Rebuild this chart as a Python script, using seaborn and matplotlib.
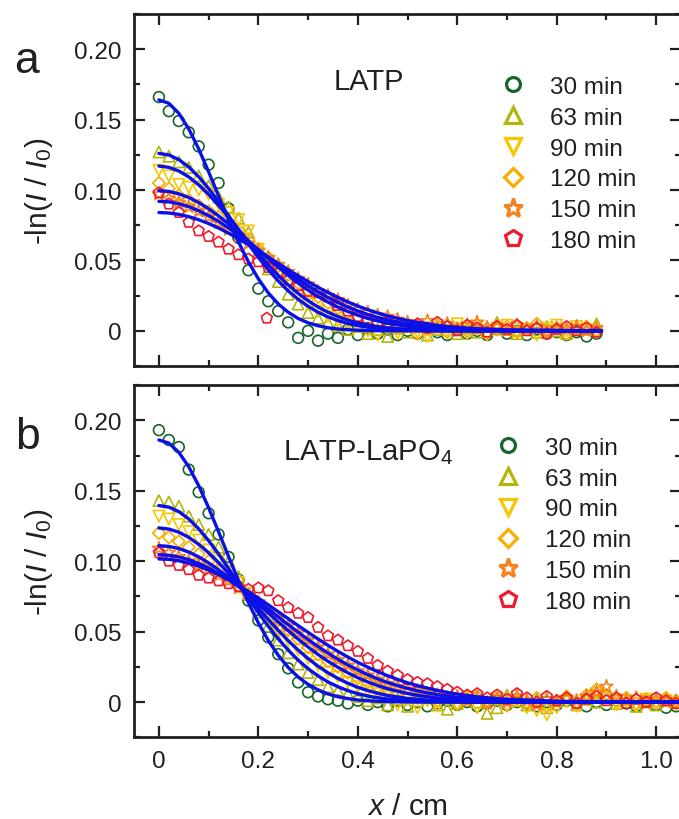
import numpy as np
import pandas as pd
import matplotlib
matplotlib.use("Agg")
import matplotlib.pyplot as plt
import seaborn as sns
from matplotlib.ticker import MultipleLocator, FuncFormatter
from matplotlib.lines import Line2D

# ---------------- data ----------------
labels = ["30 min", "63 min", "90 min", "120 min", "150 min", "180 min"]
colors = ["#17652b", "#b3b50a", "#f7c600", "#f8ad00", "#f7801f", "#ef1a2c"]
markers = ["o", "^", "v", "D", "*", "p"]
marker_sizes = [60, 66, 66, 40, 95, 68]
fit_color = "#0b10e8"

# panel a (LATP) measured profiles, x = 0 ... 0.88 cm
x_a = np.linspace(0, 0.88, 45)
a30 = [0.166, 0.156, 0.149, 0.141, 0.131, 0.118, 0.105, 0.087, 0.066, 0.043,
       0.030, 0.021, 0.014, 0.006, -0.005, 0.000, -0.007, -0.002, -0.005, 0.001,
       -0.003, 0.002, -0.002, 0.001, -0.003, 0.000, -0.002, 0.002, -0.001, -0.003,
       0.001, -0.002, 0.000, -0.003, 0.001, -0.002, 0.000, -0.003, 0.001, -0.002,
       -0.001, -0.003, -0.001, -0.004, -0.002]
a63 = [0.127, 0.124, 0.120, 0.116, 0.110, 0.103, 0.095, 0.088, 0.080, 0.070,
       0.056, 0.044, 0.035, 0.026, 0.019, 0.013, 0.009, 0.006, 0.004, 0.001,
       0.003, -0.002, 0.001, -0.004, 0.002, -0.001, 0.003, -0.003, 0.001, 0.004,
       -0.002, 0.002, -0.001, 0.003, 0.006, 0.001, -0.002, 0.002, -0.001, 0.003,
       0.000, -0.002, 0.002, 0.001, 0.005]
a90 = [0.114, 0.110, 0.104, 0.102, 0.100, 0.097, 0.090, 0.084, 0.079, 0.071,
       0.058, 0.049, 0.040, 0.032, 0.025, 0.019, 0.014, 0.010, 0.007, 0.005,
       0.003, 0.000, -0.003, 0.002, -0.002, 0.004, -0.001, -0.004, 0.002, 0.000,
       0.005, -0.002, 0.001, -0.003, 0.002, 0.004, -0.001, 0.001, -0.003, 0.002,
       0.004, 0.000, 0.003, 0.001, -0.001]
a120 = [0.105, 0.101, 0.096, 0.093, 0.089, 0.085, 0.081, 0.076, 0.071, 0.065,
        0.058, 0.052, 0.046, 0.040, 0.034, 0.029, 0.024, 0.020, 0.016, 0.013,
        0.010, 0.008, 0.006, 0.004, 0.002, 0.003, -0.002, 0.001, 0.004, -0.001,
        0.002, 0.000, 0.004, -0.002, 0.001, 0.003, -0.001, 0.002, 0.005, 0.000,
        0.002, -0.002, 0.001, 0.003, 0.000]
a150 = [0.097, 0.094, 0.091, 0.088, 0.085, 0.081, 0.077, 0.072, 0.067, 0.062,
        0.057, 0.052, 0.047, 0.042, 0.037, 0.033, 0.028, 0.025, 0.022, 0.018,
        0.015, 0.013, 0.011, 0.010, 0.008, 0.006, 0.004, 0.007, 0.002, 0.005,
        0.001, 0.004, 0.006, 0.002, 0.003, 0.000, 0.004, 0.001, 0.003, -0.001,
        0.002, 0.001, 0.003, 0.000, 0.002]
a180 = [0.098, 0.090, 0.084, 0.077, 0.071, 0.067, 0.063, 0.058, 0.054, 0.051,
        0.049, 0.045, 0.041, 0.036, 0.032, 0.028, 0.027, 0.024, 0.020, 0.014,
        0.010, 0.007, 0.005, 0.006, 0.004, 0.003, 0.005, 0.002, 0.006, 0.003,
        0.000, 0.004, 0.002, -0.001, 0.003, 0.001, 0.004, 0.000, 0.002, -0.002,
        0.001, 0.003, 0.000, 0.002, -0.001]
a180_extra_x = [0.217, 0.358]
a180_extra_y = [0.009, 0.018]

# panel a fitted curves
xfit_a = list(np.linspace(0, 0.70, 36)) + [0.89]
fa30 = [0.1640, 0.1616, 0.1545, 0.1434, 0.1292, 0.1129, 0.0958, 0.0789, 0.0631, 0.0490,
        0.0369, 0.0269, 0.0191, 0.0132, 0.0088, 0.0057, 0.0036, 0.0022, 0.0013, 0.0008,
        0.0004, 0.0002, 0.0001, 0, 0, 0, 0, 0, 0, 0, 0, 0, 0, 0, 0, 0, 0]
fa63 = [0.1260, 0.1249, 0.1216, 0.1164, 0.1094, 0.1011, 0.0918, 0.0818, 0.0717, 0.0617,
        0.0522, 0.0434, 0.0354, 0.0284, 0.0224, 0.0174, 0.0132, 0.0099, 0.0073, 0.0052,
        0.0037, 0.0026, 0.0018, 0.0012, 0.0008, 0.0005, 0.0003, 0.0002, 0.0001, 0,
        0, 0, 0, 0, 0, 0, 0]
fa90 = [0.1170, 0.1161, 0.1135, 0.1093, 0.1037, 0.0969, 0.0891, 0.0808, 0.0721, 0.0634,
        0.0549, 0.0469, 0.0394, 0.0326, 0.0266, 0.0214, 0.0169, 0.0132, 0.0101, 0.0076,
        0.0057, 0.0042, 0.0030, 0.0021, 0.0015, 0.0010, 0.0007, 0.0005, 0.0003, 0.0002,
        0.0001, 0, 0, 0, 0, 0, 0]
fa120 = [0.0995, 0.0990, 0.0973, 0.0947, 0.0911, 0.0867, 0.0817, 0.0760, 0.0700, 0.0638,
         0.0575, 0.0512, 0.0452, 0.0394, 0.0339, 0.0289, 0.0244, 0.0204, 0.0168, 0.0137,
         0.0111, 0.0088, 0.0070, 0.0055, 0.0042, 0.0032, 0.0024, 0.0018, 0.0013, 0.0010,
         0.0007, 0.0005, 0.0004, 0.0003, 0.0002, 0.0001, 0]
fa150 = [0.0920, 0.0916, 0.0903, 0.0882, 0.0853, 0.0818, 0.0777, 0.0731, 0.0681, 0.0629,
         0.0576, 0.0522, 0.0468, 0.0416, 0.0367, 0.0320, 0.0277, 0.0237, 0.0201, 0.0169,
         0.0141, 0.0116, 0.0095, 0.0077, 0.0062, 0.0049, 0.0039, 0.0030, 0.0023, 0.0018,
         0.0014, 0.0010, 0.0008, 0.0006, 0.0004, 0.0003, 0]
fa180 = [0.0840, 0.0837, 0.0827, 0.0811, 0.0789, 0.0762, 0.0730, 0.0694, 0.0654, 0.0612,
         0.0568, 0.0524, 0.0479, 0.0434, 0.0391, 0.0349, 0.0309, 0.0272, 0.0237, 0.0205,
         0.0176, 0.0150, 0.0127, 0.0106, 0.0089, 0.0073, 0.0060, 0.0049, 0.0039, 0.0031,
         0.0025, 0.0020, 0.0015, 0.0012, 0.0009, 0.0007, 0]

# panel b (LATP-LaPO4) measured profiles, x = 0 ... 1.04 cm
x_b = np.linspace(0, 1.04, 53)
b30 = [0.193, 0.186, 0.181, 0.165, 0.149, 0.134, 0.119, 0.103, 0.087, 0.072,
       0.058, 0.046, 0.034, 0.024, 0.014, 0.007, 0.004, 0.002, 0.001, -0.001,
       0.001, -0.002, 0.000, -0.003, 0.001, -0.002, 0.000, -0.003, -0.001, 0.001,
       -0.002, 0.000, -0.003, -0.001, 0.001, -0.002, 0.000, -0.001, -0.003, 0.000,
       -0.002, 0.001, -0.001, -0.003, 0.000, -0.002, 0.001, -0.001, -0.003, 0.000,
       -0.002, -0.004, -0.003]
b63 = [0.143, 0.142, 0.139, 0.132, 0.126, 0.119, 0.110, 0.100, 0.089, 0.077,
       0.064, 0.054, 0.044, 0.035, 0.027, 0.021, 0.016, 0.011, 0.008, 0.006,
       0.004, 0.001, 0.003, -0.002, 0.002, -0.003, 0.001, 0.003, -0.002, -0.005,
       -0.001, 0.004, 0.000, -0.008, -0.004, 0.005, 0.001, -0.002, 0.002, -0.004,
       0.001, 0.003, -0.002, 0.002, 0.000, 0.004, -0.001, 0.002, -0.003, 0.001,
       -0.002, 0.002, 0.000]
b90 = [0.132, 0.130, 0.126, 0.121, 0.115, 0.108, 0.100, 0.093, 0.085, 0.077,
       0.068, 0.059, 0.051, 0.044, 0.037, 0.031, 0.026, 0.021, 0.018, 0.014,
       0.011, 0.008, 0.006, 0.004, -0.002, 0.002, -0.004, 0.001, -0.003, 0.002,
       -0.002, 0.003, -0.004, 0.000, 0.002, -0.003, 0.001, -0.004, -0.006, -0.009,
       -0.004, 0.000, -0.003, 0.002, 0.006, 0.003, -0.002, 0.001, -0.003, 0.002,
       -0.001, 0.001, -0.002]
b120 = [0.120, 0.117, 0.114, 0.110, 0.105, 0.100, 0.094, 0.088, 0.082, 0.076,
        0.070, 0.064, 0.058, 0.051, 0.045, 0.039, 0.034, 0.029, 0.025, 0.021,
        0.017, 0.014, 0.011, 0.009, 0.007, 0.006, 0.003, 0.005, 0.001, 0.003,
        -0.001, 0.002, 0.004, 0.000, 0.003, -0.002, 0.002, 0.000, 0.003, -0.003,
        0.001, 0.004, 0.000, 0.005, 0.009, 0.005, 0.001, 0.003, -0.001, 0.002,
        0.000, 0.003, 0.001]
b150 = [0.109, 0.106, 0.103, 0.100, 0.097, 0.094, 0.090, 0.086, 0.081, 0.076,
        0.071, 0.065, 0.059, 0.054, 0.049, 0.044, 0.039, 0.034, 0.030, 0.026,
        0.022, 0.019, 0.016, 0.013, 0.011, 0.009, 0.008, 0.006, 0.005, 0.003,
        0.004, 0.001, 0.003, -0.001, 0.002, 0.000, 0.004, 0.001, -0.002, 0.002,
        0.000, 0.003, 0.001, 0.004, 0.007, 0.011, 0.004, 0.001, 0.003, -0.001,
        0.002, 0.000, 0.001]
b180 = [0.106, 0.100, 0.097, 0.094, 0.090, 0.088, 0.086, 0.084, 0.082, 0.080,
        0.081, 0.079, 0.072, 0.067, 0.063, 0.060, 0.053, 0.047, 0.044, 0.040,
        0.036, 0.031, 0.026, 0.022, 0.019, 0.016, 0.014, 0.013, 0.011, 0.009,
        0.007, 0.005, 0.006, 0.003, 0.005, 0.002, 0.006, 0.003, 0.000, 0.004,
        0.001, 0.003, -0.001, 0.002, 0.004, 0.001, 0.003, -0.001, 0.002, 0.000,
        0.003, 0.001, -0.001]

# panel b fitted curves
xfit_b = list(np.linspace(0, 0.70, 36)) + [0.80, 0.90, 1.05]
fb30 = [0.1860, 0.1838, 0.1773, 0.1670, 0.1536, 0.1379, 0.1209, 0.1034, 0.0864, 0.0705,
        0.0562, 0.0437, 0.0332, 0.0246, 0.0178, 0.0126, 0.0087, 0.0058, 0.0038, 0.0025,
        0.0015, 0.0009, 0.0006, 0.0003, 0.0002, 0.0001, 0, 0, 0, 0,
        0, 0, 0, 0, 0, 0, 0, 0, 0]
fb63 = [0.1395, 0.1384, 0.1352, 0.1300, 0.1230, 0.1146, 0.1051, 0.0948, 0.0843, 0.0737,
        0.0635, 0.0538, 0.0449, 0.0369, 0.0298, 0.0237, 0.0186, 0.0143, 0.0109, 0.0081,
        0.0060, 0.0043, 0.0031, 0.0022, 0.0015, 0.0010, 0.0007, 0.0004, 0.0003, 0.0002,
        0.0001, 0, 0, 0, 0, 0, 0, 0, 0]
fb90 = [0.1236, 0.1228, 0.1206, 0.1169, 0.1120, 0.1060, 0.0990, 0.0914, 0.0833, 0.0750,
        0.0667, 0.0586, 0.0509, 0.0436, 0.0369, 0.0309, 0.0255, 0.0208, 0.0168, 0.0134,
        0.0105, 0.0082, 0.0063, 0.0047, 0.0036, 0.0026, 0.0019, 0.0014, 0.0010, 0.0007,
        0.0005, 0.0003, 0.0002, 0.0001, 0, 0, 0, 0, 0]
fb120 = [0.1110, 0.1105, 0.1090, 0.1065, 0.1031, 0.0988, 0.0939, 0.0884, 0.0825, 0.0762,
         0.0698, 0.0633, 0.0569, 0.0507, 0.0447, 0.0391, 0.0338, 0.0290, 0.0247, 0.0208,
         0.0173, 0.0143, 0.0117, 0.0095, 0.0077, 0.0061, 0.0048, 0.0038, 0.0029, 0.0022,
         0.0017, 0.0013, 0.0010, 0.0007, 0.0005, 0.0004, 0.0001, 0, 0]
fb150 = [0.1046, 0.1042, 0.1030, 0.1011, 0.0984, 0.0951, 0.0912, 0.0868, 0.0820, 0.0768,
         0.0715, 0.0660, 0.0604, 0.0549, 0.0496, 0.0444, 0.0394, 0.0348, 0.0304, 0.0264,
         0.0228, 0.0195, 0.0165, 0.0139, 0.0117, 0.0097, 0.0080, 0.0065, 0.0053, 0.0042,
         0.0034, 0.0027, 0.0021, 0.0017, 0.0013, 0.0010, 0.0002, 0, 0]
fb180 = [0.1016, 0.1013, 0.1003, 0.0987, 0.0965, 0.0938, 0.0905, 0.0869, 0.0828, 0.0784,
         0.0738, 0.0690, 0.0641, 0.0592, 0.0543, 0.0495, 0.0448, 0.0403, 0.0360, 0.0320,
         0.0282, 0.0248, 0.0216, 0.0187, 0.0161, 0.0137, 0.0117, 0.0099, 0.0083, 0.0069,
         0.0057, 0.0047, 0.0038, 0.0031, 0.0025, 0.0020, 0.0006, 0.0001, 0]

x_ticks = [0, 0.2, 0.4, 0.6, 0.8, 1.0]
y_ticks = [0, 0.05, 0.10, 0.15, 0.20]

# ---------------- style ----------------
sns.set_theme(style="ticks")
plt.rcParams["font.family"] = ["Liberation Sans", "DejaVu Sans"]
plt.rcParams["mathtext.fontset"] = "custom"
plt.rcParams["mathtext.rm"] = "Liberation Sans"
plt.rcParams["mathtext.it"] = "Liberation Sans:italic"
plt.rcParams["mathtext.bf"] = "Liberation Sans:bold"
plt.rcParams["axes.linewidth"] = 2.0

ink = "#231f20"
fig = plt.figure(figsize=(6.79, 8.20), dpi=100)
ax_a = fig.add_axes([0.1974, 0.5524, 0.8056, 0.4293])
ax_b = fig.add_axes([0.1974, 0.0996, 0.8056, 0.4296])

panels = [
    (ax_a, x_a, [a30, a63, a90, a120, a150, a180], xfit_a,
     [fa30, fa63, fa90, fa120, fa150, fa180]),
    (ax_b, x_b, [b30, b63, b90, b120, b150, b180], xfit_b,
     [fb30, fb63, fb90, fb120, fb150, fb180]),
]

for ax, xs, series, xf, fits in panels:
    for ys, col, mk, sz in zip(series, colors, markers, marker_sizes):
        df = pd.DataFrame({"x": xs, "y": ys})
        sns.scatterplot(data=df, x="x", y="y", ax=ax, marker=mk, s=sz,
                        color=col, facecolor="none", edgecolor=col,
                        linewidth=1.2, zorder=2)
    if ax is ax_a:
        sns.scatterplot(x=a180_extra_x, y=a180_extra_y, ax=ax, marker="p",
                        s=marker_sizes[5], color=colors[5], facecolor="none",
                        edgecolor=colors[5], linewidth=1.2, zorder=2)
    for fy in fits:
        sns.lineplot(x=xf, y=fy, ax=ax, color=fit_color, linewidth=2.4,
                     estimator=None, sort=False, zorder=3)

for ax in (ax_a, ax_b):
    ax.set_xlim(-0.05, 1.05)
    ax.set_ylim(-0.025, 0.225)
    ax.set_xticks(x_ticks)
    ax.set_yticks(y_ticks)
    ax.xaxis.set_minor_locator(MultipleLocator(0.1))
    ax.yaxis.set_minor_locator(MultipleLocator(0.025))
    ax.tick_params(which="major", direction="in", length=8, width=1.6,
                   top=True, right=True, labelsize=17.5, pad=9, colors=ink)
    ax.tick_params(which="minor", direction="in", length=4.5, width=1.6,
                   top=True, right=True, colors=ink)
    ax.yaxis.set_major_formatter(FuncFormatter(lambda v, p: "0" if abs(v) < 1e-9 else f"{v:.2f}"))
    ax.xaxis.set_major_formatter(FuncFormatter(lambda v, p: "0" if abs(v) < 1e-9 else f"{v:.1f}"))
    for sp in ax.spines.values():
        sp.set_color(ink)
        sp.set_linewidth(2.0)
    ax.set_ylabel(r"-ln($I$ / $I_0$)", fontsize=21.5, color=ink)
    ax.yaxis.set_label_coords(-0.145, 0.5)
    ax.set_xlabel("")

ax_a.tick_params(labelbottom=False)
ax_b.set_xlabel(r"$x$ / cm", fontsize=21.5, color=ink)
ax_b.xaxis.set_label_coords(0.5, -0.155)

ax_a.text(0.364, 0.787, "LATP", transform=ax_a.transAxes, fontsize=21,
          ha="left", va="baseline", color=ink)
ax_b.text(0.272, 0.790, "LATP-LaPO$_4$", transform=ax_b.transAxes, fontsize=21,
          ha="left", va="baseline", color=ink)

fig.text(0.0206, 0.9114, "a", fontsize=32, ha="left", va="baseline", color=ink)
fig.text(0.0221, 0.452, "b", fontsize=32, ha="left", va="baseline", color=ink)

leg_ms = [10, 11, 11, 9, 14, 12]
handles = [Line2D([], [], ls="none", marker=m, mfc="none", mec=c, mew=2.3, ms=s)
           for m, c, s in zip(markers, colors, leg_ms)]
for ax, anchor in ((ax_a, (0.671, 0.824)), (ax_b, (0.662, 0.853))):
    ax.legend(handles, labels, loc="upper left", bbox_to_anchor=anchor,
              frameon=False, fontsize=17.5, handlelength=1.0, handletextpad=1.03,
              labelspacing=0.36, borderpad=0, borderaxespad=0,
              labelcolor=ink)

fig.savefig("out.png", dpi=100)
